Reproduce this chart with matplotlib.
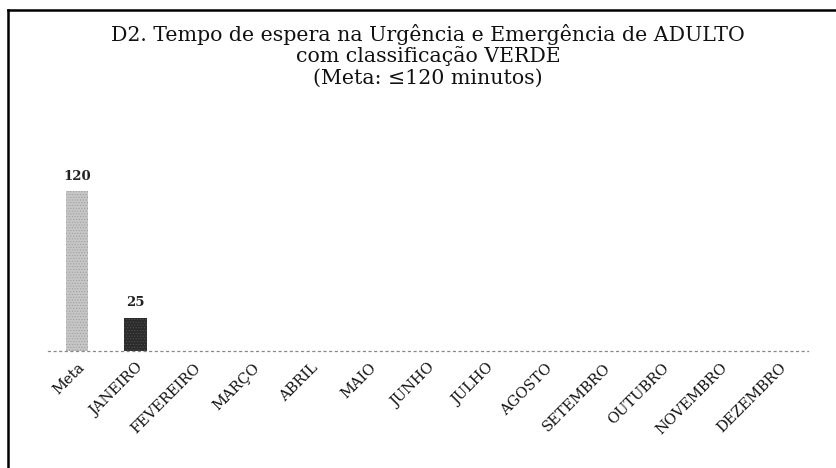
import matplotlib
matplotlib.use("Agg")
import matplotlib.pyplot as plt
from matplotlib.lines import Line2D
import numpy as np

categories = ["Meta", "JANEIRO", "FEVEREIRO", "MARÇO", "ABRIL", "MAIO", "JUNHO",
              "JULHO", "AGOSTO", "SETEMBRO", "OUTUBRO", "NOVEMBRO", "DEZEMBRO"]
values = [120, 25, np.nan, np.nan, np.nan, np.nan, np.nan, np.nan, np.nan,
          np.nan, np.nan, np.nan, np.nan]
title_lines = ["D2. Tempo de espera na Urgência e Emergência de ADULTO",
               "com classificação VERDE",
               "(Meta: ≤120 minutos)"]

plt.rcParams["hatch.linewidth"] = 0.4

W, H = 836, 468
fig = plt.figure(figsize=(W / 100, H / 100), dpi=100)
fig.patch.set_facecolor("white")

ax_left, ax_right = 48 / W, 808 / W
ax_bottom = (H - 351) / H
ax_top = (H - 151) / H
ax = fig.add_axes([ax_left, ax_bottom, ax_right - ax_left, ax_top - ax_bottom])

x = np.arange(len(categories))
colors = ["#c6c6c6", "#2b2b2b"] + ["#2b2b2b"] * (len(categories) - 2)
bars = ax.bar(x, values, width=0.385, color=colors, linewidth=0)
bars[0].set_hatch("......")
bars[0].set_edgecolor("#9a9a9a")
bars[1].set_hatch("......")
bars[1].set_edgecolor("#555555")

for xi, v in zip(x, values):
    if not np.isnan(v):
        ax.annotate(f"{int(v)}", (xi, v), xytext=(0, 6), textcoords="offset points",
                    ha="center", va="bottom", fontsize=9.5, family="DejaVu Serif",
                    fontweight="bold", color="#222222")

ax.set_xlim(-0.5, len(categories) - 0.5)
ax.set_ylim(0, 150)
ax.set_yticks([])
ax.set_xticks(x)
ax.set_xticklabels(categories, rotation=45, ha="right", rotation_mode="anchor",
                   fontsize=10.5, family="DejaVu Serif", color="#111111")
ax.tick_params(axis="x", length=0, pad=7)
for s in ["top", "right", "left"]:
    ax.spines[s].set_visible(False)
ax.spines["bottom"].set_color("#888888")
ax.spines["bottom"].set_linewidth(0.9)
ax.spines["bottom"].set_linestyle((0, (1.5, 3)))
ax.patch.set_alpha(0)

baselines = [41, 62, 84]
for line, yb in zip(title_lines, baselines):
    fig.text(428 / W, 1 - yb / H, line, ha="center", va="baseline",
             fontsize=14.8, family="DejaVu Serif", color="#111111")

# scanned page frame lines
fig.add_artist(Line2D([8 / W, 8 / W], [0, 1 - 10 / H], color="black", linewidth=1.8))
fig.add_artist(Line2D([8 / W, 1], [1 - 10 / H, 1 - 10 / H], color="black", linewidth=1.8))

fig.savefig("out.png", dpi=100, facecolor="white")
